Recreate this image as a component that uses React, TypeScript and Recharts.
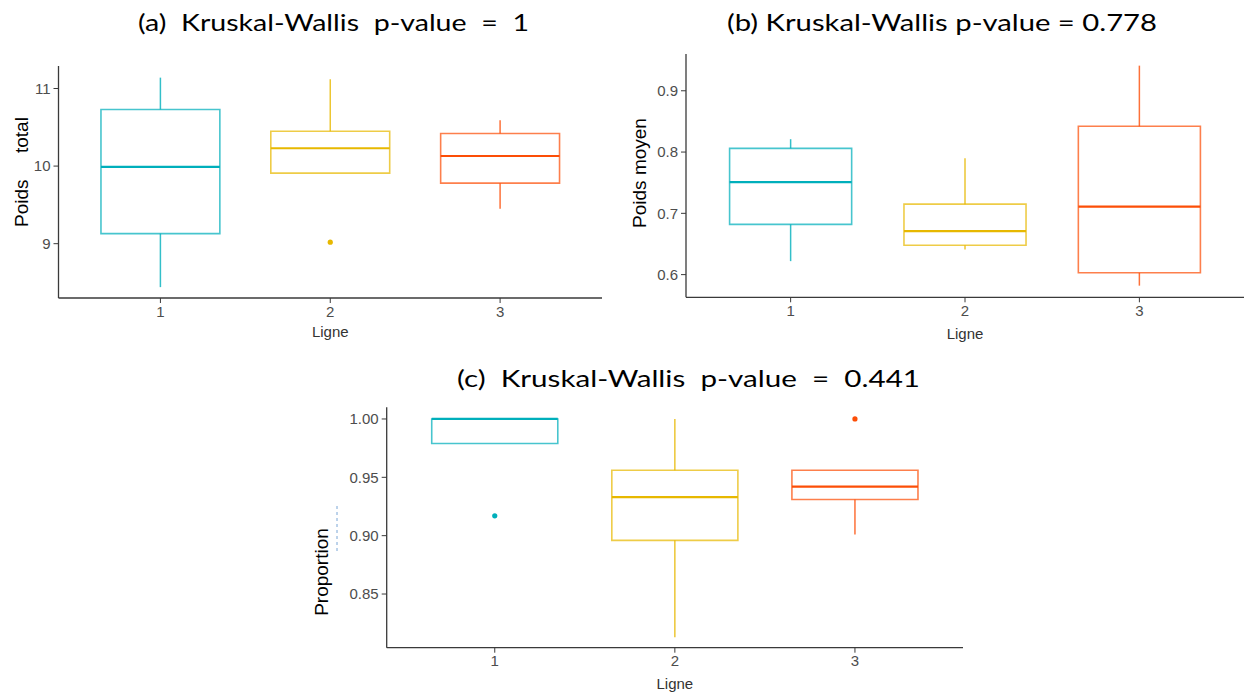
import React from 'react'
import { ComposedChart, XAxis, YAxis, Scatter, ReferenceArea, ReferenceLine } from 'recharts'

// groups on the x axis
const lignes = [1, 2, 3]
const COLORS = ['#00AFBB', '#E7B800', '#FC4E07']

// (a) Poids total
const totalLow = [8.44, 9.91, 9.45]
const totalQ1 = [9.13, 9.91, 9.78]
const totalMed = [9.99, 10.23, 10.13]
const totalQ3 = [10.73, 10.45, 10.42]
const totalHigh = [11.14, 11.12, 10.59]
const totalOut = [[], [9.02], []]
const totalTicks = [9, 10, 11]

// (b) Poids moyen
const moyenLow = [0.622, 0.641, 0.582]
const moyenQ1 = [0.682, 0.648, 0.603]
const moyenMed = [0.751, 0.671, 0.711]
const moyenQ3 = [0.806, 0.715, 0.842]
const moyenHigh = [0.821, 0.79, 0.941]
const moyenOut: number[][] = [[], [], []]
const moyenTicks = [0.6, 0.7, 0.8, 0.9]

// (c) Proportion
const propLow = [0.979, 0.813, 0.901]
const propQ1 = [0.979, 0.896, 0.931]
const propMed = [1.0, 0.933, 0.942]
const propQ3 = [1.0, 0.956, 0.956]
const propHigh = [1.0, 1.0, 0.956]
const propOut = [[0.917], [], [1.0]]
const propTicks = [0.85, 0.9, 0.95, 1.0]

const TICK_FONT = 'Liberation Sans, Arial, sans-serif'
const HALF = 0.35

interface Stats {
    low: number[]
    q1: number[]
    med: number[]
    q3: number[]
    high: number[]
    out: number[][]
}

interface PanelProps {
    left: number
    top: number
    width: number
    height: number
    margin: { top: number, right: number, bottom: number, left: number }
    yAxisWidth: number
    xAxisHeight: number
    domain: [number, number]
    ticks: number[]
    digits: number
    stats: Stats
    yLabel: string
    yLabelX: number
    yLabelY: number
    xLabelOffset: number
}

const BoxPanel = ({ left, top, width, height, margin, yAxisWidth, xAxisHeight, domain, ticks, digits, stats, yLabel, yLabelX, yLabelY, xLabelOffset }: PanelProps) => {
    const outliers: { x: number, y: number, g: number }[] = []
    stats.out.forEach((vals, i) => vals.forEach(v => outliers.push({ x: lignes[i], y: v, g: i })))

    return (
        <div style={{ position: 'absolute', left, top, width, height }}>
            <ComposedChart width={width} height={height} margin={margin}>
                <XAxis
                    type="number"
                    dataKey="x"
                    domain={[0.4, 3.6]}
                    ticks={lignes}
                    allowDataOverflow
                    height={xAxisHeight}
                    axisLine={{ stroke: '#3a3a3a', strokeWidth: 1.3 }}
                    tickLine={{ stroke: '#3a3a3a' }}
                    tickSize={5}
                    tickMargin={3}
                    tick={{ fill: '#4d4d4d', fontSize: 15, fontFamily: TICK_FONT }}
                    label={{ value: 'Ligne', position: 'insideBottom', offset: xLabelOffset, fill: '#333', fontSize: 15, fontFamily: TICK_FONT }}
                />
                <YAxis
                    type="number"
                    dataKey="y"
                    domain={domain}
                    ticks={ticks}
                    allowDataOverflow
                    width={yAxisWidth}
                    axisLine={{ stroke: '#3a3a3a', strokeWidth: 1.3 }}
                    tickLine={{ stroke: '#3a3a3a' }}
                    tickSize={5}
                    tickMargin={3}
                    tickFormatter={(v: number) => v.toFixed(digits)}
                    tick={{ fill: '#4d4d4d', fontSize: 15, fontFamily: TICK_FONT }}
                    label={{
                        content: () => (
                            <text
                                x={yLabelX}
                                y={yLabelY}
                                transform={`rotate(-90 ${yLabelX} ${yLabelY})`}
                                textAnchor="middle"
                                dy="0.35em"
                                fontSize={19}
                                fill="#000"
                                fontFamily={TICK_FONT}
                                style={{ whiteSpace: 'pre' }}
                            >
                                {yLabel}
                            </text>
                        )
                    }}
                />
                {lignes.map((c, i) => (
                    <ReferenceLine key={`wl-${i}`} segment={[{ x: c, y: stats.low[i] }, { x: c, y: stats.q1[i] }]} stroke={COLORS[i]} strokeOpacity={0.8} strokeWidth={1.5} />
                ))}
                {lignes.map((c, i) => (
                    <ReferenceLine key={`wh-${i}`} segment={[{ x: c, y: stats.q3[i] }, { x: c, y: stats.high[i] }]} stroke={COLORS[i]} strokeOpacity={0.8} strokeWidth={1.5} />
                ))}
                {lignes.map((c, i) => (
                    <ReferenceArea
                        key={`box-${i}`}
                        x1={c - HALF}
                        x2={c + HALF}
                        y1={stats.q1[i]}
                        y2={stats.q3[i]}
                        fill="#fff"
                        fillOpacity={0}
                        stroke={COLORS[i]}
                        strokeOpacity={0.72}
                        strokeWidth={1.6}
                    />
                ))}
                {lignes.map((c, i) => (
                    <ReferenceLine key={`med-${i}`} segment={[{ x: c - HALF, y: stats.med[i] }, { x: c + HALF, y: stats.med[i] }]} stroke={COLORS[i]} strokeWidth={2.2} />
                ))}
                <Scatter
                    data={outliers}
                    isAnimationActive={false}
                    shape={(p: any) => <circle cx={p.cx} cy={p.cy} r={2.6} fill={COLORS[p.payload.g]} />}
                />
            </ComposedChart>
        </div>
    )
}

const TITLE_FONT = 'Lato, "Open Sans", sans-serif'

export default function App() {
    return (
        <div style={{ position: 'absolute', left: 0, top: 0, width: 1244, height: 692, background: '#fff', overflow: 'hidden' }}>
            <BoxPanel
                left={0} top={0} width={612} height={346}
                margin={{ top: 66, right: 10, bottom: 0, left: 0 }}
                yAxisWidth={58.5} xAxisHeight={48}
                domain={[8.3, 11.29]} ticks={totalTicks} digits={0}
                stats={{ low: totalLow, q1: totalQ1, med: totalMed, q3: totalQ3, high: totalHigh, out: totalOut }}
                yLabel={'Poids     total'} yLabelX={21} yLabelY={172}
                xLabelOffset={9}
            />
            <BoxPanel
                left={620} top={0} width={624} height={346}
                margin={{ top: 54, right: 0, bottom: 0, left: 0 }}
                yAxisWidth={66} xAxisHeight={48.7}
                domain={[0.563, 0.96]} ticks={moyenTicks} digits={1}
                stats={{ low: moyenLow, q1: moyenQ1, med: moyenMed, q3: moyenQ3, high: moyenHigh, out: moyenOut }}
                yLabel="Poids moyen" yLabelX={19} yLabelY={173}
                xLabelOffset={7.5}
            />
            <BoxPanel
                left={300} top={400} width={680} height={292}
                margin={{ top: 7.3, right: 17, bottom: 0, left: 0 }}
                yAxisWidth={86.7} xAxisHeight={44.3}
                domain={[0.804, 1.01]} ticks={propTicks} digits={2}
                stats={{ low: propLow, q1: propQ1, med: propMed, q3: propQ3, high: propHigh, out: propOut }}
                yLabel="Proportion" yLabelX={21} yLabelY={172}
                xLabelOffset={3.5}
            />
            <svg width={1244} height={692} style={{ position: 'absolute', left: 0, top: 0, pointerEvents: 'none' }}>
                <text x={138} y={31} textLength={391} lengthAdjust="spacingAndGlyphs" fontSize={23} fontFamily={TITLE_FONT} fill="#000" style={{ whiteSpace: 'pre' }}>
                    {'(a)  Kruskal-Wallis  p-value  =  1'}
                </text>
                <text x={727} y={31} textLength={430} lengthAdjust="spacingAndGlyphs" fontSize={23} fontFamily={TITLE_FONT} fill="#000" style={{ whiteSpace: 'pre' }}>
                    {'(b) Kruskal-Wallis p-value = 0.778'}
                </text>
                <text x={457} y={387} textLength={463} lengthAdjust="spacingAndGlyphs" fontSize={23} fontFamily={TITLE_FONT} fill="#000" style={{ whiteSpace: 'pre' }}>
                    {'(c)  Kruskal-Wallis  p-value  =  0.441'}
                </text>
                <line x1={337} y1={506} x2={337} y2={551} stroke="#7aa6d6" strokeWidth={1} strokeDasharray="3 3" />
            </svg>
        </div>
    )
}
